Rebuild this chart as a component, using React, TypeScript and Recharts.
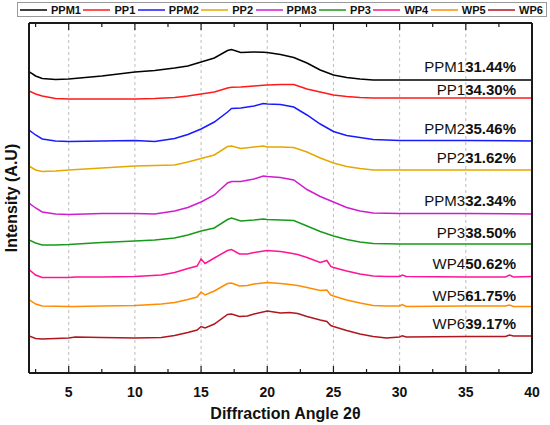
import {
  LineChart,
  Line,
  XAxis,
  YAxis,
  Label,
  LabelList,
  ReferenceLine,
} from "recharts";

const FONT = "'Liberation Sans', Arial, Helvetica, sans-serif";

// 2-theta positions (shared by the smooth samples)
const anglesA = [2, 2.5, 3, 4, 5, 7.5, 10, 11.5, 13, 14, 15, 16, 17, 17.3, 18, 19, 19.7, 20, 21, 22, 23, 24, 25, 26, 27, 28, 30, 35, 40];
// 2-theta positions for the waste samples (sharp peaks at 15, 24.5, 30.2, 38.3)
const anglesB = [2, 2.5, 3, 5, 5.5, 7.5, 10, 12, 13, 14, 14.7, 15, 15.3, 16, 17, 17.3, 17.9, 18.5, 19, 20, 21, 21.7, 22.3, 23, 24, 24.5, 24.8, 25, 26, 27, 28, 29, 30, 30.2, 30.5, 35, 38, 38.3, 38.6, 40];

// stacked intensities (a.u., offset per sample)
const ppm1 = [301.3, 297, 294.5, 293.5, 294, 297, 301, 302.5, 305, 307, 311, 315, 322.5, 323.5, 320.5, 321, 320.7, 320.5, 318.5, 315.5, 310, 303, 298, 295.5, 294, 293, 293, 293, 293];
const pp1 = [282, 279, 277, 274.5, 274, 274, 274, 274.5, 275.5, 277, 279, 281, 285, 285.7, 286, 287, 287.7, 288, 288.5, 288.5, 284, 281, 278, 276.5, 275.5, 275, 275, 275, 275];
const ppm2 = [243, 238, 234, 232, 231.5, 232, 232.5, 231.5, 234.5, 238.5, 244, 251, 261, 264.5, 265, 267, 269.5, 269, 268.5, 266, 258, 249, 241.5, 237.5, 235.5, 233.5, 232.5, 232.5, 232];
const pp2 = [207, 203, 201.5, 202, 203, 205, 207, 207.5, 208, 211, 214.5, 218, 226.5, 227, 224.5, 226, 227, 226, 226, 225.5, 221, 215, 210, 206.5, 204.5, 203, 203, 203, 203];
const ppm3 = [170, 165, 161, 159, 158.5, 159.5, 159.5, 159, 162, 165.5, 171, 178, 190, 191.5, 191.5, 194, 197, 196.5, 195.5, 193, 183.5, 176.5, 171, 165.5, 162, 160, 159.5, 159.5, 159];
const pp3 = [133, 130, 128, 128, 128.5, 130.5, 132, 133, 135, 138, 142, 145, 153.5, 155, 152, 153, 154, 153.5, 153, 152.5, 147, 141.5, 137, 133.5, 131, 129.5, 129, 129, 129];
const wp4 = [103.5, 98, 95.5, 95.5, 96, 96, 96.5, 98, 100.5, 104.5, 107, 114, 109.5, 115, 122.5, 123.5, 119, 119, 120.5, 122.5, 121.5, 120, 118.5, 115.5, 110.5, 112.5, 106.5, 105.5, 102, 99, 97, 96.5, 96.5, 98, 96.5, 96, 96, 98, 96, 96.5];
const wp5 = [73.5, 69, 67, 66.5, 66.5, 67, 67.5, 69, 70.5, 73.5, 76, 81, 78, 82, 89.5, 90, 87, 87.5, 89, 90.5, 89.5, 88.5, 87.5, 85.5, 82.5, 83, 78, 77, 73, 70, 67.5, 67, 67, 68.5, 66.5, 67, 67, 68, 66.5, 66.5];
const wp6 = [37, 34.5, 34, 35, 36, 35.5, 35, 35.5, 37.5, 40.5, 43, 46.5, 45, 49, 58.5, 59, 56.5, 57, 59, 62, 60, 60.5, 59.5, 56.5, 53, 51.5, 47.5, 46.5, 42.5, 39, 36.5, 35, 36, 37.3, 36, 36.5, 36.5, 38, 37, 37];

const names = ["PPM1", "PP1", "PPM2", "PP2", "PPM3", "PP3", "WP4", "WP5", "WP6"];
const crystallinity = ["31.44%", "34.30%", "35.46%", "31.62%", "32.34%", "38.50%", "50.62%", "61.75%", "39.17%"];
const colors = ["#000000", "#ff1a1a", "#1a1aff", "#e5a800", "#d01cd0", "#179a1a", "#ff1493", "#ff8c00", "#b0161e"];
const labelLift = [-13, -8, -12, -12, -13, -11, -13, -10.5, -12];

const angleTicks = [2.5, 5, 7.5, 10, 12.5, 15, 17.5, 20, 22.5, 25, 27.5, 30, 32.5, 35, 37.5, 40];
const gridAngles = [5, 10, 15, 20, 25, 30, 35];
const X_MIN = 2;
const X_MAX = 40;
const Y_MAX = 350;

const toRows = (angles: number[], values: number[]) =>
  angles.map((angle, i) => ({ angle, intensity: values[i] }));

const series = [
  toRows(anglesA, ppm1),
  toRows(anglesA, pp1),
  toRows(anglesA, ppm2),
  toRows(anglesA, pp2),
  toRows(anglesA, ppm3),
  toRows(anglesA, pp3),
  toRows(anglesB, wp4),
  toRows(anglesB, wp5),
  toRows(anglesB, wp6),
];

const isMajor = (v: number) => v % 5 === 0;

const BottomTick = (props: any) => {
  const { x, y, payload } = props;
  const major = isMajor(payload.value);
  const axisY = y - 14;
  return (
    <g>
      <line x1={x} x2={x} y1={axisY} y2={axisY - (major ? 7 : 4)} stroke="#1a1a1a" strokeWidth={1.2} />
      {major && (
        <text x={x} y={y + 10} textAnchor="middle" fontFamily={FONT} fontWeight="bold" fontSize={14} fill="#111">
          {payload.value}
        </text>
      )}
    </g>
  );
};

const LegendBox = () => (
  <div
    style={{
      position: "absolute",
      top: 2,
      left: 17,
      width: 530,
      height: 15,
      display: "flex",
      justifyContent: "space-between",
      alignItems: "center",
      boxSizing: "border-box",
      border: "1px solid #999",
      padding: "0 3px 0 2px",
      fontFamily: FONT,
      fontWeight: "bold",
      fontSize: 11,
      color: "#111",
      zIndex: 2,
    }}
  >
    {names.map((name, i) => (
      <div key={name} style={{ display: "flex", alignItems: "center" }}>
        <svg width={27} height={4}>
          <line x1={0} y1={2} x2={27} y2={2} stroke={colors[i]} strokeWidth={1.5} />
        </svg>
        <span style={{ marginLeft: 4 }}>{name}</span>
      </div>
    ))}
  </div>
);

const endLabel = (i: number, lastIndex: number) => (props: any) => {
  if (props.index !== lastIndex) return null;
  const x = Number(props.x ?? props.viewBox?.x);
  const y = Number(props.y ?? props.viewBox?.y);
  return (
    <text x={x - 16} y={y + labelLift[i] + 5} textAnchor="end" fontFamily={FONT} fontSize={15} fill="#111">
      <tspan>{names[i]}</tspan>
      <tspan fontWeight="bold">{crystallinity[i]}</tspan>
    </text>
  );
};

const YTitle = (props: any) => {
  const vb = props.viewBox || { x: 0, y: 23, width: 29, height: 350 };
  const cx = vb.x + vb.width - 17.5;
  const cy = vb.y + vb.height / 2;
  return (
    <text
      x={cx}
      y={cy}
      transform={`rotate(-90 ${cx} ${cy})`}
      textAnchor="middle"
      dominantBaseline="central"
      fontFamily={FONT}
      fontWeight="bold"
      fontSize={16}
      fill="#111"
    >
      Intensity (A.U)
    </text>
  );
};

export default function App() {
  return (
    <div style={{ position: "absolute", left: 0, top: 0, width: 550, height: 425, fontFamily: FONT }}>
      <LegendBox />
      <LineChart width={550} height={425} margin={{ top: 23, right: 18, bottom: 0, left: 0 }}>
        <XAxis
          dataKey="angle"
          type="number"
          domain={[X_MIN, X_MAX]}
          allowDataOverflow
          ticks={angleTicks}
          interval={0}
          height={52}
          axisLine={{ stroke: "#1a1a1a", strokeWidth: 2 }}
          tickLine={false}
          tickSize={0}
          tickMargin={14}
          tick={BottomTick}
        >
          <Label
            value="Diffraction Angle 2θ"
            position="insideBottom"
            offset={6}
            dx={5}
            style={{ fontFamily: FONT, fontWeight: "bold", fontSize: 16, fill: "#111" }}
          />
        </XAxis>
        <YAxis
          type="number"
          domain={[0, Y_MAX]}
          allowDataOverflow
          width={29}
          tick={false}
          tickLine={false}
          axisLine={{ stroke: "#1a1a1a", strokeWidth: 2 }}
          label={<Label content={YTitle} />}
        />
        {gridAngles.map((a) => (
          <ReferenceLine key={a} x={a} stroke="#bdbdbd" strokeDasharray="3 3" strokeWidth={1} />
        ))}
        {series.map((rows, i) => (
          <Line
            key={names[i]}
            data={rows}
            dataKey="intensity"
            name={names[i]}
            type="linear"
            stroke={colors[i]}
            strokeWidth={1.5}
            dot={false}
            activeDot={false}
            isAnimationActive={false}
          >
            <LabelList dataKey="intensity" content={endLabel(i, rows.length - 1)} />
          </Line>
        ))}
        {angleTicks.map((t) => (
          <ReferenceLine
            key={`top-${t}`}
            segment={[
              { x: t, y: Y_MAX },
              { x: t, y: Y_MAX - (isMajor(t) ? 7 : 4) },
            ]}
            stroke="#1a1a1a"
            strokeWidth={1.2}
          />
        ))}
        <ReferenceLine y={Y_MAX} stroke="#1a1a1a" strokeWidth={2} />
        <ReferenceLine y={0} stroke="#1a1a1a" strokeWidth={2} />
        <ReferenceLine x={X_MIN} stroke="#1a1a1a" strokeWidth={2} />
        <ReferenceLine x={X_MAX} stroke="#1a1a1a" strokeWidth={2} />
      </LineChart>
    </div>
  );
}
